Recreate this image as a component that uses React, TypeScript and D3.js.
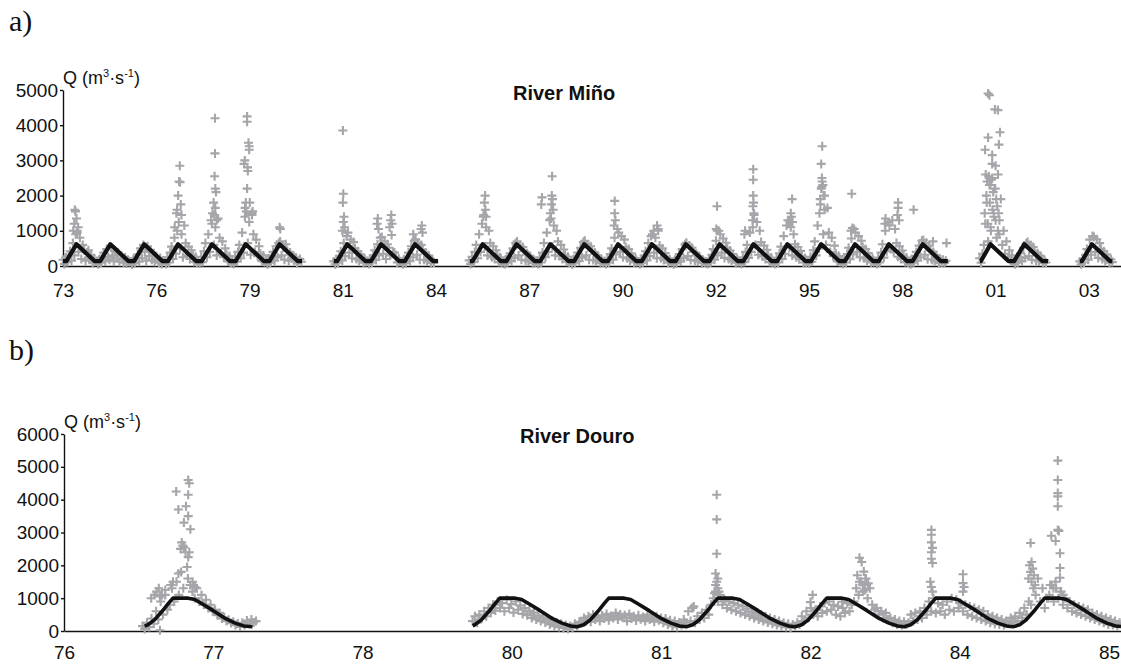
import { useEffect, useRef } from "react";
import * as d3 from "d3";

const W = 1121;
const H = 665;

// ---------- River Miño (panel a) ----------
// gray daily-discharge cloud, sampled twice a month, one array per continuous record
const minoSegStarts = [73.6, 81.6, 85.6, 100.68, 103.64];
const minoStep = 1 / 24;

const minoSeg1 = [
  180, 60, 240, 110, 300, 420, 150, 650, 300, 900, 1000, 400, 800, 200, 600, 450, 150, 380, 250, 180, 300, 90, 220, 120,
  140, 50, 200, 90, 260, 380, 130, 480, 250, 180, 520, 300, 140, 440, 220, 380, 120, 300, 200, 90, 240, 70, 180, 110,
  120, 40, 190, 80, 240, 330, 120, 500, 220, 600, 400, 150, 560, 280, 460, 180, 350, 120, 280, 200, 90, 230, 60, 160,
  160, 60, 250, 100, 380, 550, 200, 800, 350, 1000, 1250, 500, 900, 250, 1150, 650, 300, 550, 200, 450, 300, 120, 260, 90,
  150, 70, 260, 110, 420, 650, 250, 900, 400, 1300, 1500, 600, 1100, 300, 1350, 800, 350, 700, 250, 500, 320, 130, 280, 100,
  170, 60, 270, 120, 400, 600, 220, 950, 380, 1400, 1550, 650, 1250, 320, 1450, 900, 400, 750, 280, 560, 350, 140, 300, 110,
  140, 50, 210, 90, 280, 400, 150, 560, 250, 650, 700, 300, 550, 180, 620, 420, 150, 380, 220, 300, 160, 240, 80, 150,
  200, 120,
];
const minoSeg2 = [
  130, 50, 200, 90, 280, 420, 160, 650, 280, 850, 950, 380, 750, 220, 680, 500, 200, 420, 150, 330, 240, 90, 200, 110,
  140, 60, 210, 100, 300, 450, 170, 620, 300, 800, 820, 350, 700, 200, 620, 520, 300, 880, 400, 380, 250, 100, 210, 120,
  120, 50, 190, 80, 260, 380, 140, 560, 250, 720, 760, 320, 650, 180, 600, 460, 180, 380, 140, 300, 220, 80, 180, 100,
];
const minoSeg3 = [
  160, 60, 260, 110, 400, 600, 220, 900, 400, 1200, 1400, 550, 1100, 300, 1000, 650, 250, 560, 200, 450, 300, 110, 250, 90,
  130, 50, 190, 90, 260, 360, 140, 500, 230, 650, 700, 300, 580, 180, 540, 420, 160, 360, 130, 290, 210, 80, 170, 100,
  150, 60, 240, 100, 380, 650, 250, 950, 400, 1300, 1350, 550, 1150, 300, 1000, 700, 280, 600, 200, 470, 320, 120, 260, 100,
  130, 50, 200, 90, 270, 380, 140, 520, 240, 680, 720, 300, 620, 180, 560, 440, 170, 380, 140, 300, 220, 80, 180, 100,
  140, 60, 220, 100, 340, 500, 180, 800, 330, 1050, 950, 400, 850, 250, 750, 540, 220, 480, 160, 360, 260, 100, 210, 110,
  130, 50, 200, 90, 300, 420, 160, 650, 280, 850, 900, 380, 800, 220, 1000, 580, 230, 500, 170, 370, 250, 90, 200, 110,
  120, 50, 180, 80, 240, 340, 130, 480, 220, 620, 660, 280, 580, 170, 520, 400, 150, 350, 130, 280, 200, 80, 160, 100,
  130, 60, 210, 100, 320, 480, 180, 720, 300, 1000, 900, 380, 780, 230, 660, 500, 200, 440, 150, 340, 240, 90, 200, 110,
  150, 60, 250, 110, 400, 600, 230, 950, 400, 1100, 1450, 600, 1250, 320, 1000, 680, 270, 580, 200, 460, 300, 110, 240, 100,
  140, 60, 230, 100, 360, 550, 200, 850, 350, 1150, 1300, 520, 1100, 300, 900, 620, 250, 540, 190, 430, 280, 100, 230, 100,
  160, 70, 260, 120, 450, 700, 300, 1150, 500, 1750, 2250, 900, 2000, 600, 1650, 950, 400, 800, 280, 580, 350, 130, 280, 110,
  140, 60, 220, 100, 340, 520, 190, 780, 330, 1050, 950, 400, 850, 250, 720, 540, 220, 480, 160, 370, 260, 100, 210, 110,
  140, 60, 230, 100, 380, 620, 240, 1000, 420, 1250, 1150, 480, 1300, 400, 1050, 650, 260, 560, 200, 440, 290, 110, 240, 100,
  130, 50, 200, 90, 280, 400, 150, 580, 250, 720, 740, 320, 660, 190, 580, 450, 180, 400, 140, 310, 230, 80, 190, 100,
  180, 90, 150,
];
const minoSeg4 = [
  220, 90, 350, 600, 1200, 1800, 700, 2300, 1000, 2500, 1500, 2200, 800, 2600, 1300, 1900, 600, 1000, 350, 700, 250, 450, 150, 300,
  130, 50, 190, 90, 260, 360, 140, 520, 230, 640, 680, 280, 600, 180, 540, 420, 160, 360, 130, 290, 210, 80, 170, 100,
];
const minoSeg5 = [
  130, 50, 200, 100, 320, 480, 180, 750, 320, 850, 820, 400, 760, 230, 650, 480, 200, 420, 150, 330, 230, 90, 190, 110,
];
const minoSegments = [minoSeg1, minoSeg2, minoSeg3, minoSeg4, minoSeg5];

// isolated high-flow days [year, Q]
const minoPeaks = [
  [73.95, 1600], [73.97, 1550], [74.0, 1350], [73.93, 1200], [74.05, 1100], [73.9, 1000], [74.02, 950], [74.35, 450],
  [77.05, 2850], [77.03, 2400], [77.06, 2380], [77.0, 2000], [76.97, 1600], [77.08, 1750], [76.95, 1500], [77.1, 1450], [77.02, 1250], [76.9, 1100],
  [78.09, 4200], [78.09, 3200], [78.08, 2550], [78.1, 2200], [78.12, 2100], [78.05, 1800], [78.1, 1650], [78.07, 1450], [78.14, 1300], [78.0, 1200],
  [79.04, 4250], [79.04, 4100], [79.08, 3500], [79.1, 3400], [79.1, 3300], [78.97, 3000], [78.95, 2900], [79.05, 2800], [79.06, 2700],
  [79.04, 2200], [79.12, 1800], [79.2, 1550], [79.18, 1500], [79.0, 1800], [78.98, 1650],
  [80.0, 1100], [80.02, 1050],
  [81.87, 3850], [81.88, 2050], [81.87, 1800], [81.9, 1400], [81.88, 1250], [81.92, 1100], [81.85, 1000],
  [82.9, 1350], [82.88, 1200], [82.92, 1050], [83.3, 1450], [83.28, 1300], [83.32, 1200], [83.25, 1100],
  [83.95, 900], [84.2, 1150], [84.18, 1050], [84.22, 950],
  [86.07, 2000], [86.05, 1800], [86.08, 1600], [86.03, 1450], [86.1, 1400],
  [88.05, 2550], [87.75, 1950], [87.73, 1750], [88.04, 2000], [88.06, 1900], [88.03, 1750], [88.08, 1600], [88.0, 1500],
  [89.9, 1850], [89.9, 1500], [89.92, 1300], [89.88, 1150],
  [91.15, 1150], [91.18, 1050], [91.05, 1000],
  [92.92, 1700], [92.93, 1000], [92.9, 1050],
  [93.99, 2750], [93.99, 2450], [93.99, 2000], [94.0, 1800], [93.98, 1700], [94.01, 1500], [93.97, 1300], [93.75, 1000], [93.73, 900],
  [95.14, 1900], [95.1, 1500], [95.12, 1400], [95.05, 1300], [95.15, 1250],
  [96.03, 3400], [96.0, 2900], [96.02, 2500], [96.03, 2400], [96.05, 2300], [96.0, 2200], [96.07, 2000], [95.97, 1900], [96.1, 1600], [95.95, 1500],
  [96.9, 2050], [96.92, 1080], [96.88, 1000],
  [98.27, 1800], [98.27, 1650], [97.9, 1350], [98.25, 1450], [97.88, 1200], [98.3, 1300],
  [98.73, 1600], [99.3, 700], [99.7, 650],
  [100.93, 4900], [100.97, 4850], [101.13, 4450], [101.22, 4430], [101.28, 3800], [100.93, 3650], [101.25, 3450], [100.84, 3300],
  [101.05, 3150], [101.05, 2900], [101.15, 2850], [100.86, 2600], [100.9, 2400], [100.95, 2550], [101.0, 2300], [101.03, 2450],
  [101.08, 2100], [101.12, 2200], [101.17, 1900], [101.2, 1700], [101.24, 1500], [100.88, 2000], [100.98, 1800], [101.06, 1600],
  [101.1, 1400], [101.15, 1300], [100.92, 1200], [101.0, 1100], [101.22, 1000], [101.26, 900], [100.83, 1500],
];

// modelled seasonal discharge (black line), one array per record segment
const minoModel1 = [
  [73.6, 140], [73.7, 140], [74.0, 620], [74.53, 140], [74.7, 140], [75.0, 620], [75.53, 140], [75.7, 140],
  [76.0, 620], [76.53, 140], [76.7, 140], [77.0, 620], [77.53, 140], [77.7, 140], [78.0, 620], [78.53, 140],
  [78.7, 140], [79.0, 620], [79.53, 140], [79.7, 140], [80.0, 620], [80.53, 140], [80.66, 140],
];
const minoModel2 = [
  [81.6, 140], [81.7, 140], [82.0, 620], [82.53, 140], [82.7, 140], [83.0, 620], [83.53, 140], [83.7, 140],
  [84.0, 620], [84.53, 140], [84.68, 140],
];
const minoModel3 = [
  [85.62, 140], [85.7, 140], [86.0, 620], [86.53, 140], [86.7, 140], [87.0, 620], [87.53, 140], [87.7, 140],
  [88.0, 620], [88.53, 140], [88.7, 140], [89.0, 620], [89.53, 140], [89.7, 140], [90.0, 620], [90.53, 140],
  [90.7, 140], [91.0, 620], [91.53, 140], [91.7, 140], [92.0, 620], [92.53, 140], [92.7, 140], [93.0, 620],
  [93.53, 140], [93.7, 140], [94.0, 620], [94.53, 140], [94.7, 140], [95.0, 620], [95.53, 140], [95.7, 140],
  [96.0, 620], [96.53, 140], [96.7, 140], [97.0, 620], [97.53, 140], [97.7, 140], [98.0, 620], [98.53, 140],
  [98.7, 140], [99.0, 620], [99.53, 140], [99.74, 140],
];
const minoModel4 = [
  [100.69, 140], [100.72, 140], [101.0, 620], [101.53, 140], [101.7, 140], [102.0, 620], [102.53, 140], [102.7, 140],
];
const minoModel5 = [[103.64, 140], [103.7, 140], [104.0, 620], [104.53, 140], [104.6, 140]];
const minoModels = [minoModel1, minoModel2, minoModel3, minoModel4, minoModel5];

const minoTickYears = [73.6, 76.355, 79.11, 81.865, 84.62, 87.375, 90.13, 92.885, 95.64, 98.395, 101.15, 103.905];
const minoTickLabels = ["73", "76", "79", "81", "84", "87", "90", "92", "95", "98", "01", "03"];
const minoYTicks = [0, 1000, 2000, 3000, 4000, 5000];

// ---------- River Douro (panel b) ----------
const douroSegStarts = [76.72, 79.75];
const douroStep = 1 / 48;

const douroSeg1 = [
  150, 60, 250, 120, 380, 220, 600, 350, 900, 500, 1100, 650, 800, 1300, 900, 1500, 1100,
  1800, 1300, 2400, 1600, 1400, 1200, 1000, 1300, 900, 1100, 800, 950, 700, 800, 600, 650,
  480, 550, 380, 420, 300, 340, 240, 280, 180, 230, 140, 250, 180, 320, 220, 350, 260, 300,
];
const douroSeg2 = [
  300, 450, 250, 500, 380, 600, 450, 700, 550, 800, 620, 900, 700, 850, 600, 950,
  700, 820, 560, 900, 650, 780, 520, 700, 480, 620, 400, 560, 350, 480, 300, 420,
  260, 380, 200, 320, 150, 260, 120, 220, 90, 180, 60, 150, 100, 220, 150, 280,
  250, 400, 300, 450, 280, 500, 350, 420, 300, 480, 380, 520, 330, 460, 400, 550,
  350, 500, 420, 480, 300, 520, 380, 450, 320, 480, 360, 430, 300, 500, 350, 420,
  280, 450, 330, 400, 250, 380, 200, 330, 150, 300, 120, 260, 180, 350, 250, 600,
  300, 700, 250, 450, 350, 550, 400, 650, 500, 800, 1000, 1200, 900, 1100, 800, 950,
  700, 900, 650, 850, 600, 800, 550, 750, 500, 680, 450, 600, 400, 550, 350, 500,
  300, 450, 260, 400, 220, 350, 180, 300, 150, 250, 120, 220, 100, 200, 150, 250,
  200, 450, 300, 600, 400, 700, 500, 650, 450, 750, 550, 850, 600, 900, 650, 800,
  500, 750, 450, 700, 550, 850, 600, 800, 900, 1300, 1100, 1500, 1200, 1600, 1000, 1300,
  800, 650, 700, 500, 600, 400, 550, 350, 400, 250, 350, 200, 300, 180, 280, 200,
  250, 500, 300, 550, 350, 600, 400, 700, 500, 900, 600, 1000, 550, 850, 600, 800,
  500, 900, 650, 1000, 600, 950, 700, 850, 600, 800, 500, 750, 450, 700, 400, 650,
  350, 600, 300, 500, 250, 450, 220, 400, 200, 350, 180, 300, 220, 400, 250, 450,
  300, 550, 400, 700, 500, 900, 800, 1300, 1100, 1600, 900, 1300, 700, 1000, 1100, 1400,
  900, 1300, 1000, 1200, 800, 1000, 700, 900, 600, 800, 550, 750, 500, 700, 450, 650,
  400, 550, 350, 500, 300, 450, 250, 400, 200, 350, 180, 300, 150, 250, 200,
];
const douroSegments = [douroSeg1, douroSeg2];

const douroPeaks = [
  [77.14, 4600], [77.15, 4500], [77.03, 4250], [77.14, 4150], [77.12, 3800], [77.05, 3700], [77.14, 3500], [77.1, 3300],
  [77.16, 3100], [77.08, 2700], [77.09, 2600], [77.1, 2550], [77.07, 2500], [77.15, 2400], [77.14, 2250], [77.13, 1950],
  [77.05, 1750], [77.0, 1500], [76.98, 1400], [76.87, 1300], [76.85, 1200], [76.9, 1100], [76.88, 1050], [76.93, 1250],
  [76.8, 1000], [76.83, 1100], [76.88, 20], [77.18, 1500], [77.2, 1350],
  [81.76, 700], [81.78, 750],
  [81.99, 4150], [81.99, 3400], [81.99, 2350], [81.98, 1750], [82.0, 1600], [81.99, 1500], [81.98, 1400], [82.0, 1300], [82.01, 1200], [81.97, 1150],
  [82.85, 880], [82.87, 1100], [83.14, 890],
  [83.3, 2230], [83.32, 2100], [83.34, 1810], [83.28, 1700], [83.36, 1600], [83.3, 1500], [83.38, 1450], [83.33, 1400], [83.27, 1300], [83.35, 1250],
  [83.96, 3080], [83.96, 2930], [83.96, 2700], [83.97, 2530], [83.96, 2400], [83.96, 2200], [83.97, 2070], [83.96, 1340], [83.95, 1500], [83.97, 1200],
  [84.25, 1730], [84.25, 1460], [84.26, 1340], [84.25, 1200],
  [84.87, 2680], [84.88, 2100], [84.86, 2000], [84.89, 1900], [84.87, 1800], [84.9, 1700], [84.85, 1600], [84.88, 1500], [84.91, 1400],
  [85.12, 5190], [85.12, 4600], [85.12, 4200], [85.12, 4100], [85.12, 3800], [85.12, 3080], [85.13, 3050], [85.06, 2900],
  [85.1, 2740], [85.14, 2370], [85.14, 1920], [85.14, 1620], [85.05, 1400], [85.08, 1300], [85.1, 1500], [85.15, 1200], [85.17, 1100], [85.03, 1000],
];

const douroModel1 = [
  [76.74, 150], [76.77, 190], [76.83, 340], [76.9, 600], [76.96, 850], [77.0, 1000], [77.14, 1000], [77.2, 960],
  [77.27, 820], [77.37, 620], [77.47, 400], [77.57, 240], [77.65, 150], [77.73, 130],
];
const douroModel2 = [
  [79.75, 160], [79.77, 190], [79.83, 340], [79.9, 600], [79.96, 850], [80.0, 1000], [80.14, 1000], [80.2, 960],
  [80.27, 820], [80.37, 620], [80.47, 400], [80.57, 240], [80.65, 150], [80.71, 130],
  [80.77, 190], [80.83, 340], [80.9, 600], [80.96, 850], [81.0, 1000], [81.14, 1000], [81.2, 960],
  [81.27, 820], [81.37, 620], [81.47, 400], [81.57, 240], [81.65, 150], [81.71, 130],
  [81.77, 190], [81.83, 340], [81.9, 600], [81.96, 850], [82.0, 1000], [82.14, 1000], [82.2, 960],
  [82.27, 820], [82.37, 620], [82.47, 400], [82.57, 240], [82.65, 150], [82.71, 130],
  [82.77, 190], [82.83, 340], [82.9, 600], [82.96, 850], [83.0, 1000], [83.14, 1000], [83.2, 960],
  [83.27, 820], [83.37, 620], [83.47, 400], [83.57, 240], [83.65, 150], [83.71, 130],
  [83.77, 190], [83.83, 340], [83.9, 600], [83.96, 850], [84.0, 1000], [84.14, 1000], [84.2, 960],
  [84.27, 820], [84.37, 620], [84.47, 400], [84.57, 240], [84.65, 150], [84.71, 130],
  [84.77, 190], [84.83, 340], [84.9, 600], [84.96, 850], [85.0, 1000], [85.14, 1000], [85.2, 960],
  [85.27, 820], [85.37, 620], [85.47, 400], [85.57, 240], [85.65, 150], [85.7, 135],
];
const douroModels = [douroModel1, douroModel2];

const douroTickYears = [76.0, 77.37, 78.74, 80.11, 81.48, 82.85, 84.22, 85.59];
const douroTickLabels = ["76", "77", "78", "80", "81", "82", "84", "85"];
const douroYTicks = [0, 1000, 2000, 3000, 4000, 5000, 6000];

const FONT = "'Liberation Sans', Arial, sans-serif";
const GRAY = "#a5a5aa";

const App = () => {
  const svgRef = useRef(null);

  useEffect(() => {
    const svg = d3.select(svgRef.current);
    svg.selectAll("*").remove();

    const panels = [
      {
        tag: "a)", tagY: 31, title: "River Miño", titleX: 513, titleY: 100, xPad: 18,
        x: d3.scaleLinear().domain([73.6, 104.856]).range([63, W]),
        y: d3.scaleLinear().domain([0, 5000]).range([266, 90]),
        yTicks: minoYTicks, tickYears: minoTickYears, tickLabels: minoTickLabels,
        segStarts: minoSegStarts, segments: minoSegments, step: minoStep,
        peaks: minoPeaks, models: minoModels, lineW: 4.2,
      },
      {
        tag: "b)", tagY: 360, title: "River Douro", titleX: 520, titleY: 443, xPad: 15,
        x: d3.scaleLinear().domain([76.0, 85.7]).range([64, W]),
        y: d3.scaleLinear().domain([0, 6000]).range([631, 434]),
        yTicks: douroYTicks, tickYears: douroTickYears, tickLabels: douroTickLabels,
        segStarts: douroSegStarts, segments: douroSegments, step: douroStep,
        peaks: douroPeaks, models: douroModels, lineW: 3.6,
      },
    ];

    panels.forEach((p) => {
      const { x, y } = p;
      const x0 = x.range()[0];
      const y0 = y.range()[0];

      // panel tag
      svg.append("text")
        .attr("x", 9).attr("y", p.tagY)
        .style("font-family", "'Liberation Serif', 'Times New Roman', serif")
        .style("font-size", "30px").attr("fill", "#111")
        .text(p.tag);

      // y axis
      const ya = svg.append("g")
        .attr("transform", `translate(${x0},0)`)
        .call(d3.axisLeft(y).tickValues(p.yTicks).tickFormat(d3.format("d")).tickSize(3).tickPadding(2).tickSizeOuter(0));
      ya.select(".domain").attr("stroke", "#111").attr("stroke-width", 1.4);
      ya.selectAll("line").attr("stroke", "#111").attr("stroke-width", 1.4);
      ya.selectAll("text").style("font-family", FONT).style("font-size", "19px").attr("fill", "#111");

      // x axis
      const xa = svg.append("g")
        .attr("transform", `translate(0,${y0})`)
        .call(d3.axisBottom(x).tickValues(p.tickYears).tickFormat((d, i) => p.tickLabels[i]).tickSize(0).tickPadding(p.xPad).tickSizeOuter(0));
      xa.select(".domain").attr("stroke", "#111").attr("stroke-width", 1.4);
      xa.selectAll("text").style("font-family", FONT).style("font-size", "19px").attr("fill", "#111");

      // axis title Q (m3·s-1)
      const q = svg.append("text")
        .attr("x", x0).attr("y", y.range()[1] - 6)
        .style("font-family", FONT).style("font-size", "18px").attr("fill", "#111");
      q.append("tspan").text("Q (m");
      q.append("tspan").attr("dy", -7).style("font-size", "11px").text("3");
      q.append("tspan").attr("dy", 7).text("·s");
      q.append("tspan").attr("dy", -7).style("font-size", "11px").text("-1");
      q.append("tspan").attr("dy", 7).text(")");

      // chart title
      svg.append("text")
        .attr("x", p.titleX).attr("y", p.titleY)
        .style("font-family", FONT).style("font-size", "20px").style("font-weight", "bold")
        .attr("fill", "#111")
        .text(p.title);

      // gray observed points drawn as plus markers
      const pts = [];
      p.segments.forEach((vals, s) => {
        vals.forEach((v, i) => pts.push([p.segStarts[s] + i * p.step, v]));
      });
      p.peaks.forEach((d) => pts.push(d));
      const r = 4.5;
      const dPath = pts
        .map(([t, v]) => {
          const px = x(t);
          const py = y(v);
          return `M${(px - r).toFixed(1)},${py.toFixed(1)}h${2 * r}M${px.toFixed(1)},${(py - r).toFixed(1)}v${2 * r}`;
        })
        .join("");
      svg.append("path").attr("d", dPath).attr("stroke", GRAY).attr("stroke-width", 2.1).attr("fill", "none");

      // black modelled line
      const line = d3.line().x((d) => x(d[0])).y((d) => y(d[1]));
      p.models.forEach((m) => {
        svg.append("path")
          .attr("d", line(m))
          .attr("fill", "none")
          .attr("stroke", "#111")
          .attr("stroke-width", p.lineW)
          .attr("stroke-linejoin", "round");
      });
    });
  }, []);

  return (
    <svg
      ref={svgRef}
      width={W}
      height={H}
      style={{ position: "absolute", left: 0, top: 0, background: "#fff" }}
    />
  );
};

export default App;
